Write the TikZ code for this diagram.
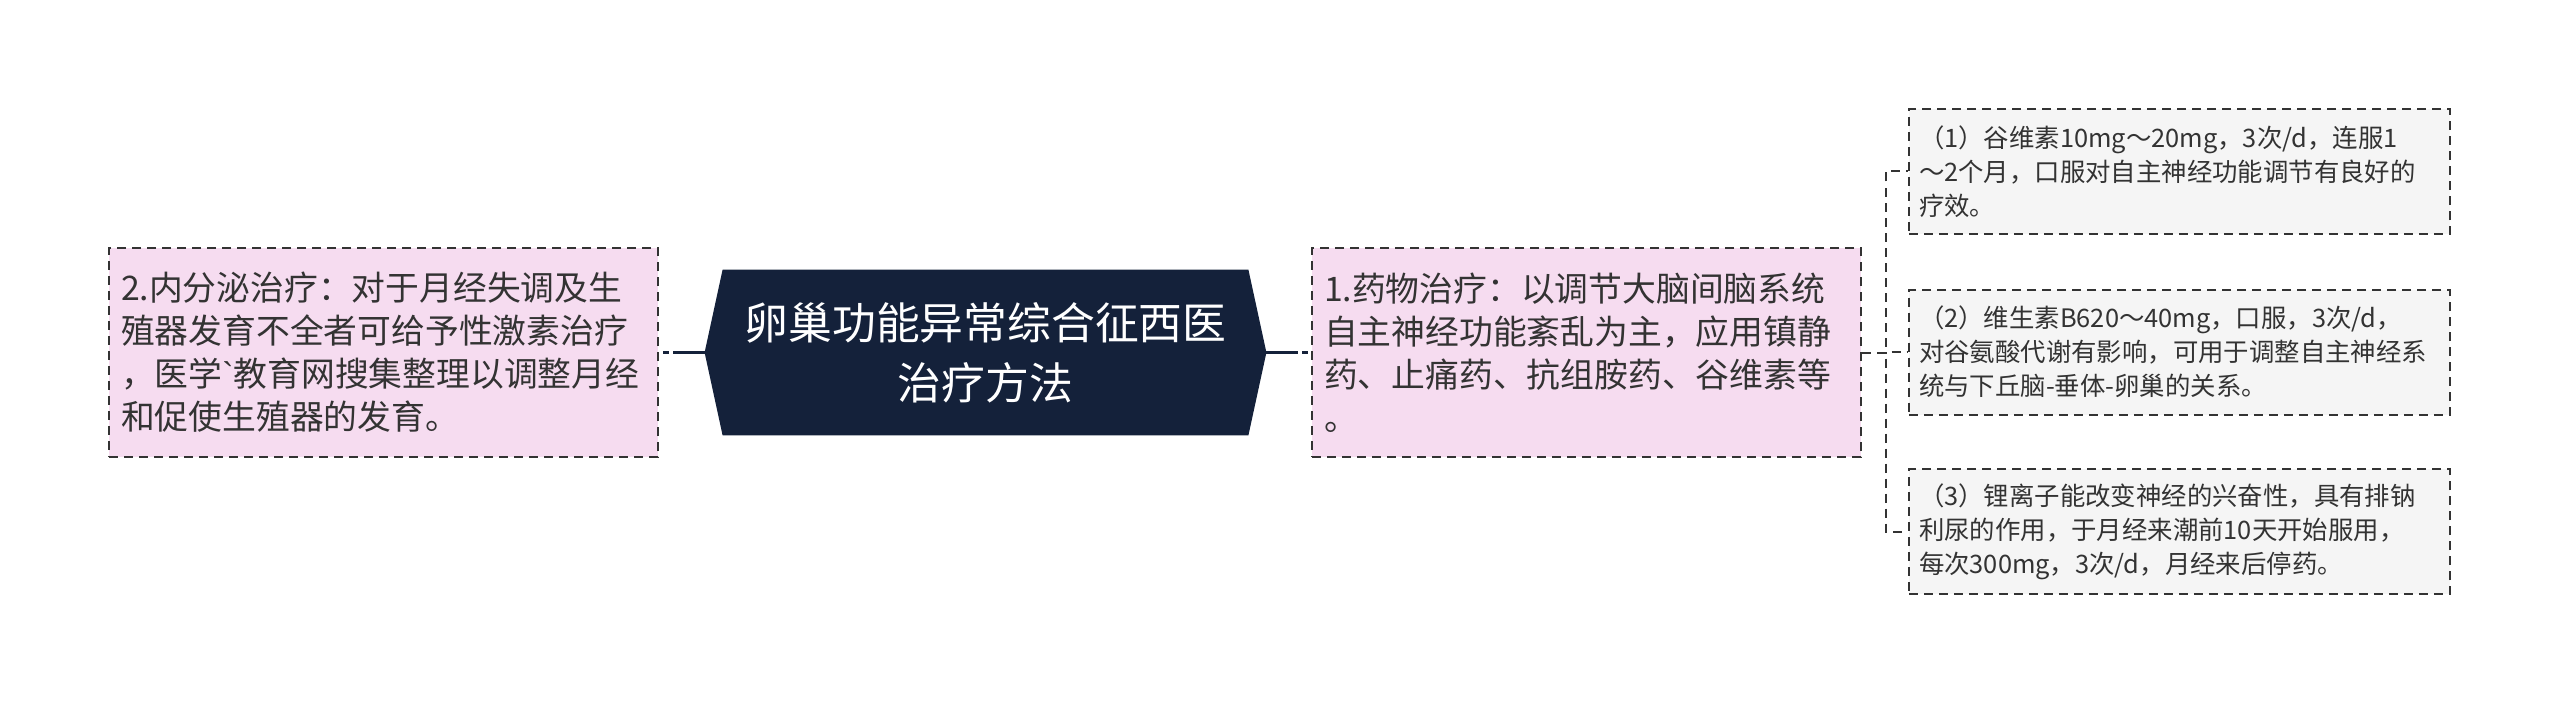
\documentclass[tikz,border=0pt]{standalone}
\usepackage{fontspec}
\setmainfont{Noto Sans CJK SC}
\newfontfamily\graveglyph{Liberation Sans}
\usepackage{xcolor}
\usetikzlibrary{backgrounds}

\definecolor{rootfill}{HTML}{14213A}
\definecolor{pinkfill}{HTML}{F6DCF0}
\definecolor{greyfill}{HTML}{F5F5F5}
\definecolor{edgegrey}{HTML}{333333}

\begin{document}
\begin{tikzpicture}[x=0.5pt,y=0.5pt,yscale=-1,xscale=1,
    rootnode/.style={minimum width=280.5pt, minimum height=82.5pt, inner sep=0pt, align=center, text=white, font=\fontsize{21.9}{30}\selectfont},
    pinkbox/.style={draw=edgegrey, line width=1pt, dash pattern=on 4.5pt off 3pt, fill=pinkfill, text=edgegrey, minimum height=104.5pt, inner xsep=6pt, text width=262.5pt, align=left, font=\fontsize{16.9}{21.5}\selectfont},
    greybox/.style={draw=edgegrey, line width=1pt, dash pattern=on 4.5pt off 3pt, fill=greyfill, text=edgegrey, minimum height=62.5pt, inner xsep=5pt, text width=260.5pt, align=left, font=\fontsize{12.7}{17}\selectfont},
    mainlink/.style={draw=rootfill, line width=1.5pt, dash pattern=on 16pt off 2pt on 3pt off 2pt},
    sublink/.style={draw=edgegrey, line width=1pt, dash pattern=on 4.5pt off 3pt}]
    \useasboundingbox (0,0) rectangle (2560,706);

    % Root Node
    \draw (985.5,352.5) node (root) [rootnode] {卵巢功能异常综合征西医\\治疗方法};
    \begin{scope}[on background layer]
    \fill [rootfill] (root.west) -- ([xshift=9pt]root.north west) -- ([xshift=-9pt]root.north east) -- (root.east) -- ([xshift=-9pt]root.south east) -- ([xshift=9pt]root.south west) -- cycle;
    \end{scope}

    % Text Node
    \draw (383.5,352.5) node (endo) [pinkbox] {2.内分泌治疗：对于月经失调及生\\殖器发育不全者可给予性激素治疗\\，医学{\graveglyph\symbol{96}}教育网搜集整理以调整月经\\和促使生殖器的发育。};
    % Text Node
    \draw (1586.5,352.5) node (drug) [pinkbox] {1.药物治疗：以调节大脑间脑系统\\自主神经功能紊乱为主，应用镇静\\药、止痛药、抗组胺药、谷维素等\\。};

    % Text Node
    \draw (2179.5,171.5) node (oryz) [greybox] {（1）谷维素10mg～20mg，3次/d，连服1\\～2个月，口服对自主神经功能调节有良好的\\疗效。};
    % Text Node
    \draw (2179.5,352) node (vitb) [greybox] {（2）维生素B620～40mg，口服，3次/d，\\对谷氨酸代谢有影响，可用于调整自主神经系\\统与下丘脑-垂体-卵巢的关系。};
    % Text Node
    \draw (2179.5,531.5) node (lith) [greybox] {（3）锂离子能改变神经的兴奋性，具有排钠\\利尿的作用，于月经来潮前10天开始服用，\\每次300mg，3次/d，月经来后停药。};

    % Straight Lines
    \draw [mainlink] (root.west) -- (endo.east);
    \draw [mainlink] (root.east) -- (drug.west);

    \draw [sublink] (drug.east) -- ++(24,0) |- (oryz.west);
    \draw [sublink] (drug.east) -- ++(24,0) |- (vitb.west);
    \draw [sublink] (drug.east) -- ++(24,0) |- (lith.west);

\end{tikzpicture}
\end{document}
